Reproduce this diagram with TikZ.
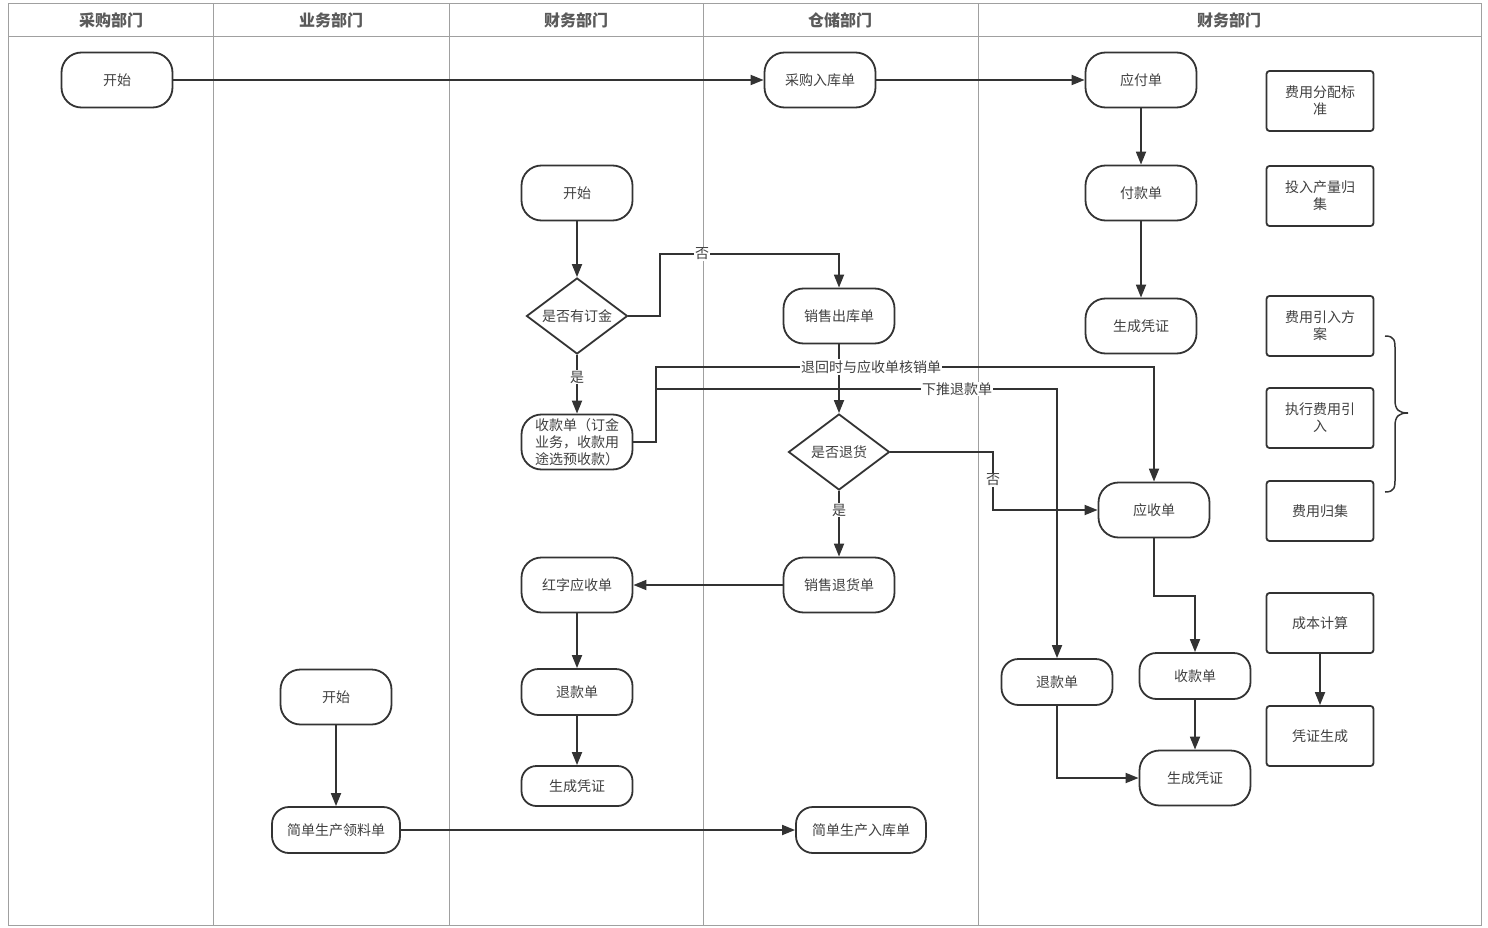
\documentclass[tikz,border=0pt]{standalone}
\usepackage{fontspec}
\setmainfont{Noto Sans CJK SC}
\usetikzlibrary{arrows.meta,shapes.geometric}
\definecolor{ln}{HTML}{333333}
\definecolor{txt}{HTML}{404040}
\definecolor{lane}{HTML}{A0A0A0}
\definecolor{hdr}{HTML}{5A5A5A}
\begin{document}
\begin{tikzpicture}[x=1pt,y=-1pt,
  term/.style={draw=ln,line width=1.8pt,rounded corners=20pt,minimum width=111pt,minimum height=55pt,
    font=\fontsize{14}{16}\selectfont,text=txt,inner sep=0pt,align=center},
  sterm/.style={term,minimum height=46pt,rounded corners=17pt},
  box/.style={draw=ln,line width=1.8pt,rounded corners=3pt,minimum width=107pt,minimum height=60pt,
    font=\fontsize{14}{17}\selectfont,text=txt,inner sep=0pt,align=center},
  dec/.style={diamond,draw=ln,line width=1.8pt,minimum width=101pt,minimum height=76pt,aspect=1.33,
    font=\fontsize{14}{16}\selectfont,text=txt,inner sep=0pt},
  arr/.style={draw=ln,line width=1.8pt,-{Triangle[length=13pt,width=10pt]}},
  lab/.style={fill=white,font=\fontsize{14}{16}\selectfont,text=txt,inner sep=1pt},
  hd/.style={font=\fontsize{16}{18}\selectfont\bfseries,text=hdr},
  lanel/.style={draw=lane,line width=1pt}
]
\useasboundingbox (0,0) rectangle (1488,928);
% lanes
\draw[lanel] (8,4) rectangle (1481,925);
\draw[lanel] (8,37) -- (1481,37);
\foreach \x in {213,449,703,978} \draw[lanel] (\x,4) -- (\x,925);
\node[hd] (h1) at (111,20) {采购部门};
\node[hd] (h2) at (331,20) {业务部门};
\node[hd] (h3) at (576,20) {财务部门};
\node[hd] (h4) at (840,20) {仓储部门};
\node[hd] (h5) at (1229,20) {财务部门};

% nodes
\node[term] (s1) at (117,80) {开始};
\node[term] (cgrk) at (820,80) {采购入库单};
\node[term] (yfd) at (1141,80) {应付单};
\node[term] (fkd) at (1141,193) {付款单};
\node[term] (scpz1) at (1141,326) {生成凭证};
\node[term] (s2) at (577,193) {开始};
\node[dec] (d1) at (577,316) {是否有订金};
\node[term] (xsck) at (839,316) {销售出库单};
\node[term,font=\fontsize{14}{17}\selectfont] (skd) at (577,442) {收款单（订金\\业务，收款用\\途选预收款）};
\node[dec] (d2) at (839,452) {是否退货};
\node[term] (ysd) at (1154,510) {应收单};
\node[term] (xsthd) at (839,585) {销售退货单};
\node[term] (hzysd) at (577,585) {红字应收单};
\node[sterm] (tkd1) at (577,692) {退款单};
\node[sterm,minimum height=40pt,rounded corners=15pt] (scpz2) at (577,786) {生成凭证};
\node[term] (s3) at (336,697) {开始};
\node[sterm,minimum width=128pt] (llsd) at (336,830) {简单生产领料单};
\node[sterm,minimum width=130pt] (rksd) at (861,830) {简单生产入库单};
\node[sterm] (tkd2) at (1057,682) {退款单};
\node[sterm] (skd2) at (1195,676) {收款单};
\node[term] (scpz3) at (1195,778) {生成凭证};

\node[box] (b1) at (1320,101) {费用分配标\\准};
\node[box] (b2) at (1320,196) {投入产量归\\集};
\node[box] (b3) at (1320,326) {费用引入方\\案};
\node[box] (b4) at (1320,418) {执行费用引\\入};
\node[box] (b5) at (1320,511) {费用归集};
\node[box] (b6) at (1320,623) {成本计算};
\node[box] (b7) at (1320,736) {凭证生成};

% brace
\draw[draw=ln,line width=1.5pt] (1385,336) .. controls (1395,336) and (1395,341) .. (1395,350) -- (1395,400)
  .. controls (1395,410) and (1399,413) .. (1408,413)
  .. controls (1399,413) and (1395,416) .. (1395,426) -- (1395,478)
  .. controls (1395,487) and (1395,492) .. (1385,492);

% connectors
\draw[arr] (s1) -- (cgrk);
\draw[arr] (cgrk) -- (yfd);
\draw[arr] (yfd) -- (fkd);
\draw[arr] (fkd) -- (scpz1);
\draw[arr] (s2) -- (d1);
\draw[arr] (d1.east) -- (660,316) -- (660,254) -| (xsck.north);
\draw[arr] (d1.south) -- (skd.north);
\draw[arr] (xsck) -- (d2);
\draw[arr] (skd.east) -- (656,442) -- (656,367) -| (ysd.north);
\draw[arr] (skd.east) -- (656,442) -- (656,389) -| (tkd2.north);
\draw[arr] (d2.east) -- (993,452) |- (ysd.west);
\draw[arr] (d2.south) -- (xsthd.north);
\draw[arr] (xsthd.west) -- (hzysd.east);
\draw[arr] (hzysd) -- (tkd1);
\draw[arr] (tkd1) -- (scpz2);
\draw[arr] (ysd.south) -- (1154,596) -| (skd2.north);
\draw[arr] (skd2) -- (scpz3);
\draw[arr] (tkd2.south) |- (scpz3.west);
\draw[arr] (b6) -- (b7);
\draw[arr] (s3) -- (llsd);
\draw[arr] (llsd) -- (rksd);

% labels
\node[lab] (l1) at (702,254) {否};
\node[lab] (l2) at (577,377) {是};
\node[lab] (l3) at (871,367) {退回时与应收单核销单};
\node[lab] (l4) at (957,389) {下推退款单};
\node[lab] (l5) at (993,480) {否};
\node[lab] (l6) at (839,510) {是};
\end{tikzpicture}
\end{document}
